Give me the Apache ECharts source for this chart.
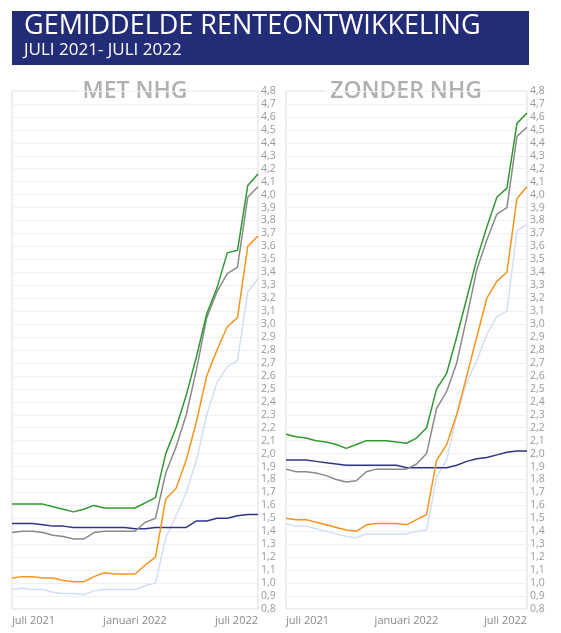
<!DOCTYPE html>
<html><head><meta charset="utf-8">
<script src="https://cdn.jsdelivr.net/npm/echarts@6/dist/echarts.min.js"></script>
<style>html,body{margin:0;padding:0;background:#fff}#c{width:561px;height:633px}</style>
</head><body><div id="c"></div>
<script>
const months = [0,0.5,1,1.5,2,2.5,3,3.5,4,4.5,5,5.5,6,6.5,7,7.5,8,8.5,9,9.5,10,10.5,11,11.5,12];
const xTickLabels = {0:'juli 2021',6:'januari 2022',12:'juli 2022'};
const panelTitles = ['MET NHG','ZONDER NHG'];
// MET NHG
const metGreen  = [1.61,1.61,1.61,1.61,1.59,1.57,1.55,1.57,1.60,1.58,1.58,1.58,1.58,1.62,1.66,2.00,2.20,2.45,2.75,3.08,3.28,3.55,3.57,4.07,4.16];
const metGrey   = [1.39,1.40,1.40,1.39,1.37,1.36,1.34,1.34,1.39,1.40,1.40,1.40,1.40,1.47,1.50,1.85,2.05,2.30,2.65,3.05,3.25,3.39,3.44,3.98,4.06];
const metOrange = [1.04,1.05,1.05,1.04,1.04,1.02,1.01,1.01,1.05,1.08,1.07,1.07,1.07,1.14,1.20,1.65,1.73,1.95,2.25,2.60,2.80,2.98,3.05,3.60,3.68];
const metLight  = [0.95,0.96,0.95,0.95,0.93,0.92,0.92,0.91,0.94,0.95,0.95,0.95,0.95,0.98,1.00,1.35,1.52,1.70,1.95,2.30,2.55,2.67,2.72,3.25,3.35];
const metNavy   = [1.46,1.46,1.46,1.45,1.44,1.44,1.43,1.43,1.43,1.43,1.43,1.43,1.42,1.42,1.43,1.43,1.43,1.43,1.48,1.48,1.50,1.50,1.52,1.53,1.53];
// ZONDER NHG
const zonGreen  = [2.15,2.13,2.12,2.10,2.09,2.07,2.04,2.07,2.10,2.10,2.10,2.09,2.08,2.12,2.20,2.50,2.62,2.90,3.20,3.50,3.75,3.98,4.05,4.55,4.63];
const zonGrey   = [1.88,1.86,1.86,1.85,1.83,1.80,1.78,1.79,1.86,1.88,1.88,1.88,1.88,1.92,2.00,2.35,2.48,2.70,3.05,3.42,3.65,3.85,3.90,4.45,4.52];
const zonOrange = [1.50,1.49,1.49,1.47,1.45,1.43,1.41,1.40,1.45,1.46,1.46,1.46,1.45,1.49,1.53,1.95,2.07,2.30,2.60,2.90,3.20,3.33,3.40,3.97,4.06];
const zonLight  = [1.46,1.44,1.44,1.42,1.40,1.38,1.36,1.35,1.38,1.38,1.38,1.38,1.38,1.40,1.41,1.82,1.95,2.30,2.55,2.72,2.92,3.06,3.10,3.72,3.77];
const zonNavy   = [1.95,1.95,1.95,1.94,1.93,1.92,1.91,1.91,1.91,1.91,1.91,1.91,1.89,1.89,1.89,1.89,1.89,1.91,1.94,1.96,1.97,1.99,2.01,2.02,2.02];

const colors = {green:'#2f9a2f', grey:'#8a8a8a', orange:'#f7941d', light:'#d3def6', navy:'#2f3587'};
const pair = arr => arr.map((v,i)=>[months[i],v]);
const panels = [
  {left:12,right:303,sets:[[metLight,'light'],[metNavy,'navy'],[metOrange,'orange'],[metGrey,'grey'],[metGreen,'green']]},
  {left:286,right:34,sets:[[zonLight,'light'],[zonNavy,'navy'],[zonOrange,'orange'],[zonGrey,'grey'],[zonGreen,'green']]}
];
const grids=[],xAxes=[],yAxes=[],series=[];
panels.forEach((p,i)=>{
  grids.push({left:p.left,right:p.right,top:91,bottom:24,show:true,borderColor:'#dcdcdc',borderWidth:1});
  xAxes.push({type:'value',gridIndex:i,min:0,max:12,interval:6,
    axisLine:{show:false},axisTick:{show:false},splitLine:{show:false},
    axisLabel:{formatter:v=>xTickLabels[v]||'',color:'#888',fontSize:11,fontFamily:'Open Sans',margin:6,alignMinLabel:'left',alignMaxLabel:'right'}});
  yAxes.push({type:'value',gridIndex:i,position:'right',min:0.8,max:4.8,interval:0.1,
    axisLine:{show:false},axisTick:{show:false},
    splitLine:{lineStyle:{color:'#f0f0f0'}},
    axisLabel:{formatter:v=>v.toFixed(1).replace('.',','),color:'#999',fontSize:10.5,fontFamily:'Open Sans',margin:3}});
  p.sets.forEach(([arr,c])=>series.push({type:'line',xAxisIndex:i,yAxisIndex:i,data:pair(arr),showSymbol:false,
    lineStyle:{color:colors[c],width:1.5},itemStyle:{color:colors[c]},animation:false}));
});
const chart = echarts.init(document.getElementById('c'));
chart.setOption({
  animation:false,
  grid:grids,xAxis:xAxes,yAxis:yAxes,series:series,
  graphic:[
    {type:'rect',shape:{x:12,y:11,width:517,height:54},style:{fill:'#232c77'}},
    {type:'text',left:24,top:13,style:{text:'GEMIDDELDE RENTEONTWIKKELING',fill:'#fff',font:'500 27px "Open Sans"'}},
    {type:'text',left:24,top:42,style:{text:'JULI 2021- JULI 2022',fill:'#fff',font:'17px "Open Sans"'}},
    {type:'text',x:135,y:91,style:{text:panelTitles[0],fill:'#b0b0b0',font:'600 23px "Open Sans"',align:'center',verticalAlign:'middle',backgroundColor:'#fff',padding:[0,6]}},
    {type:'text',x:406,y:91,style:{text:panelTitles[1],fill:'#b0b0b0',font:'600 23px "Open Sans"',align:'center',verticalAlign:'middle',backgroundColor:'#fff',padding:[0,6]}}
  ]
});
</script></body></html>
